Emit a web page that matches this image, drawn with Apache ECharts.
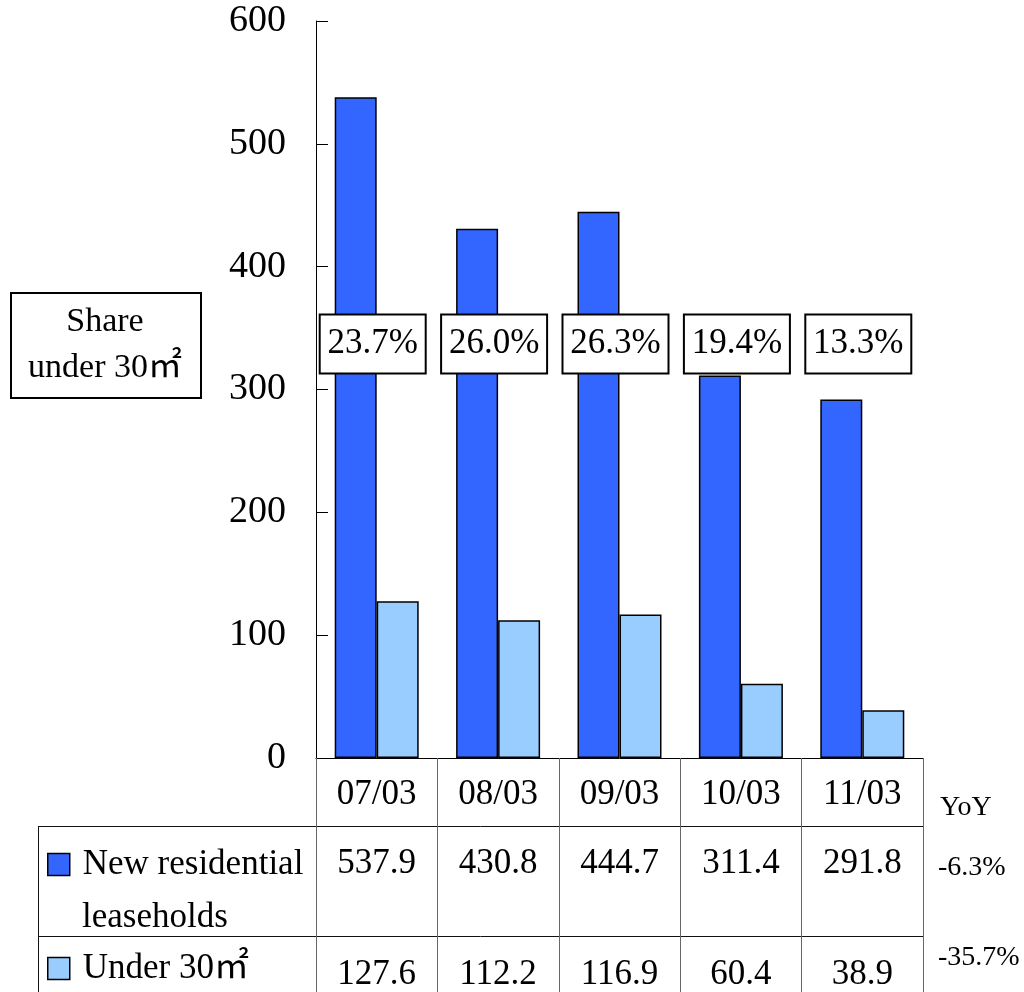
<!DOCTYPE html>
<html>
<head>
<meta charset="utf-8">
<script src="https://cdn.jsdelivr.net/npm/echarts@6/dist/echarts.min.js"></script>
<style>
  html, body { margin: 0; padding: 0; background: #fff; }
  #chart { width: 1024px; height: 992px; }
</style>
</head>
<body>
<div id="chart"></div>
<script>
// Fiscal-year periods (year/month)
const periods = ['07/03', '08/03', '09/03', '10/03', '11/03'];
// New residential leaseholds (thousand units)
const newLeaseholds = [537.9, 430.8, 444.7, 311.4, 291.8];
// Of which under 30 m²
const under30 = [127.6, 112.2, 116.9, 60.4, 38.9];
// Share of units under 30 m² (%)
const shareUnder30 = [23.7, 26.0, 26.3, 19.4, 13.3];
// Year-on-year change of the latest period
const yoyLabels = ['-6.3%', '-35.7%'];
// Value-axis ticks
const yTicks = [0, 100, 200, 300, 400, 500, 600];

const SERIF = "'Liberation Serif', 'Times New Roman', 'Noto Sans CJK JP', serif";
const DARK = '#3366FF';
const LIGHT = '#99CCFF';
const SHARE_ROW_LEVEL = 337; // axis level where the share boxes sit

const chart = echarts.init(document.getElementById('chart'), null, { renderer: 'canvas' });

const gridLeft = 316, gridRight = 923, gridTop = 21, gridBottom = 759;

function tableAxis(data, margin, fontSize) {
  return {
    type: 'category',
    gridIndex: 0,
    position: 'bottom',
    data: data,
    axisLine: { show: false },
    axisTick: { show: false },
    splitLine: { show: false },
    axisLabel: {
      interval: 0,
      margin: margin,
      fontFamily: SERIF,
      fontSize: fontSize,
      lineHeight: fontSize,
      color: '#000'
    }
  };
}

const option = {
  animation: false,
  backgroundColor: '#fff',
  grid: {
    left: gridLeft,
    right: 1024 - gridRight,
    top: gridTop,
    bottom: 992 - gridBottom
  },
  xAxis: [
    {
      type: 'category',
      data: periods,
      axisLine: { show: true, lineStyle: { color: '#000', width: 1 } },
      axisTick: { show: true, alignWithLabel: false, length: 240, lineStyle: { color: '#666', width: 1 } },
      axisLabel: {
        interval: 0,
        margin: 19,
        fontFamily: SERIF,
        fontSize: 35,
        lineHeight: 35,
        color: '#000'
      }
    },
    tableAxis(newLeaseholds.map(v => v.toFixed(1)), 88, 35),
    tableAxis(under30.map(v => v.toFixed(1)), 199, 35)
  ],
  yAxis: {
    type: 'value',
    min: yTicks[0],
    max: yTicks[yTicks.length - 1],
    interval: 100,
    axisLine: { show: true, lineStyle: { color: '#000', width: 1 } },
    axisTick: { show: true, inside: true, length: 12, lineStyle: { color: '#000' } },
    splitLine: { show: false },
    axisLabel: {
      margin: 30,
      fontFamily: SERIF,
      fontSize: 38,
      color: '#000'
    }
  },
  legend: [
    {
      data: ['New residential leaseholds'],
      left: 47,
      top: 847,
      padding: 0,
      itemWidth: 22,
      itemHeight: 22,
      icon: 'rect',
      formatter: () => 'New residential',
      itemStyle: { borderColor: '#000', borderWidth: 1.5 },
      textStyle: { fontFamily: SERIF, fontSize: 35, lineHeight: 35, color: '#000', padding: [0, 0, 0, 8] }
    },
    {
      data: ['Under 30㎡'],
      left: 47,
      top: 951,
      padding: 0,
      itemWidth: 22,
      itemHeight: 22,
      icon: 'rect',
      itemStyle: { borderColor: '#000', borderWidth: 1.5 },
      textStyle: { fontFamily: SERIF, fontSize: 35, lineHeight: 35, color: '#000', padding: [0, 0, 0, 8] }
    }
  ],
  series: [
    {
      name: 'New residential leaseholds',
      type: 'bar',
      data: newLeaseholds,
      barWidth: 42,
      barGap: '0%',
      itemStyle: { color: DARK, borderColor: '#000', borderWidth: 1.5 }
    },
    {
      name: 'Under 30㎡',
      type: 'bar',
      data: under30,
      barWidth: 42,
      barGap: '0%',
      itemStyle: { color: LIGHT, borderColor: '#000', borderWidth: 1.5 }
    },
    {
      name: 'share',
      type: 'scatter',
      symbolSize: 0,
      silent: true,
      z: 5,
      itemStyle: { opacity: 1 },
      emphasis: { disabled: true },
      data: shareUnder30.map((s, i) => [periods[i], SHARE_ROW_LEVEL, s]),
      label: {
        show: true,
        position: 'inside',
        offset: [-4, 0],
        formatter: p => p.value[2].toFixed(1) + '%',
        fontFamily: SERIF,
        fontSize: 35,
        color: '#000',
        opacity: 1,
        backgroundColor: '#fff',
        borderColor: '#000',
        borderWidth: 2,
        width: 104,
        height: 57,
        lineHeight: 57,
        align: 'center',
        verticalAlign: 'middle',
        padding: 0
      }
    }
  ],
  graphic: [
    // caption box on the left
    {
      type: 'rect',
      left: 10, top: 292,
      shape: { width: 190, height: 105 },
      style: { fill: '#fff', stroke: '#000', lineWidth: 2 }
    },
    {
      type: 'text',
      x: 105, y: 345,
      style: {
        text: 'Share\nunder 30㎡',
        fontFamily: SERIF,
        fontSize: 34,
        lineHeight: 46,
        fill: '#000',
        align: 'center',
        verticalAlign: 'middle'
      }
    },
    // data table frame
    { type: 'line', shape: { x1: 38, y1: 826.5, x2: gridRight, y2: 826.5 }, style: { stroke: '#111', lineWidth: 1 } },
    { type: 'line', shape: { x1: 38, y1: 936.5, x2: gridRight, y2: 936.5 }, style: { stroke: '#111', lineWidth: 1 } },
    { type: 'line', shape: { x1: 38.5, y1: 826, x2: 38.5, y2: 992 }, style: { stroke: '#111', lineWidth: 1 } },
    // second line of the first legend entry
    {
      type: 'text', x: 82, y: 918,
      style: { text: 'leaseholds', fontFamily: SERIF, fontSize: 35, fill: '#000', align: 'left', verticalAlign: 'middle' }
    },
    // YoY column
    {
      type: 'text', x: 940, y: 808,
      style: { text: 'YoY', fontFamily: SERIF, fontSize: 28, fill: '#000', align: 'left', verticalAlign: 'middle' }
    },
    {
      type: 'text', x: 938, y: 868,
      style: { text: yoyLabels[0], fontFamily: SERIF, fontSize: 28, fill: '#000', align: 'left', verticalAlign: 'middle' }
    },
    {
      type: 'text', x: 938, y: 958,
      style: { text: yoyLabels[1], fontFamily: SERIF, fontSize: 28, fill: '#000', align: 'left', verticalAlign: 'middle' }
    }
  ]
};

chart.setOption(option);
</script>
</body>
</html>
